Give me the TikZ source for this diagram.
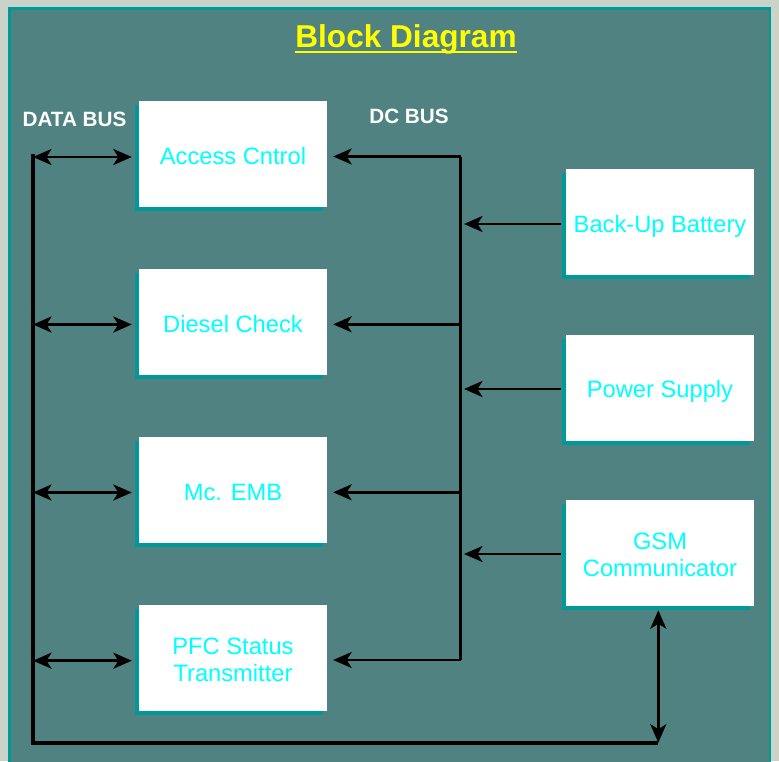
\documentclass[tikz,border=0pt]{standalone}
\usepackage{fontspec}
\setmainfont{Liberation Sans}
\usetikzlibrary{arrows.meta,shadows}
\definecolor{outerbg}{HTML}{C9D3C7}
\definecolor{panel}{HTML}{508282}
\definecolor{tealb}{HTML}{009999}
\definecolor{cyantext}{HTML}{00FFFF}
\definecolor{titleyellow}{HTML}{FFFF00}
\newcommand\twolines[2]{\vbox{\baselineskip=27pt\lineskiplimit=-100pt\halign{\hfil##\hfil\cr#1\cr#2\cr}}}
\tikzset{
  blk/.style={fill=white, minimum width=188pt, minimum height=106pt, inner sep=0pt,
    text=cyantext, font=\fontsize{23.7}{27}\selectfont, text height=20pt, text depth=0pt,
    drop shadow={shadow xshift=-4pt, shadow yshift=-4pt, fill=tealb, opacity=1}},
  blktwo/.style={blk, text height=47pt},
  buslabel/.style={text=white, font=\fontsize{20.7}{24}\selectfont\bfseries, inner sep=0pt, anchor=base},
  databus/.style={line width=4pt, black},
  dcbus/.style={line width=2.5pt, black},
  dbarrow/.style={line width=2.8pt, black, {Stealth[length=18.5pt,width=16pt,inset=5pt]}-{Stealth[length=18.5pt,width=16pt,inset=5pt]}},
  dcarrow/.style={line width=2.4pt, black, -{Stealth[length=18.5pt,width=16pt,inset=5pt]}}
}
\begin{document}
\begin{tikzpicture}[x=1pt,y=-1pt]
\useasboundingbox (0,0) rectangle (779,761);
\fill[outerbg] (0,0) rectangle (779,761);
\fill[panel] (8,7) rectangle (771,765);
\draw[tealb, line width=2.5pt] (9.25,8.25) -- (769.75,8.25);
\draw[tealb, line width=2.5pt] (9.25,8.25) -- (9.25,765);
\draw[tealb, line width=2.5pt] (769.75,8.25) -- (769.75,765);

% title
\node[text=titleyellow, font=\fontsize{31.6}{36}\selectfont\bfseries, inner sep=0pt, anchor=base] (title) at (406,47.3) {Block Diagram};
\draw[titleyellow, line width=2pt] ([yshift=-4.4pt]title.base west) -- ([yshift=-4.4pt]title.base east);

\node[buslabel] (dbl) at (74.5,126.7) {DATA BUS};
\node[buslabel] (dcl) at (409,123.3) {DC BUS};

% left boxes
\node[blk] (acc) at (233,154) {Access Cntrol};
\node[blk] (die) at (233,322) {Diesel Check};
\node[blk] (emb) at (233,490) {Mc. EMB};
\node[blktwo] (pfc) at (233,658) {\twolines{PFC Status}{Transmitter}};

% right boxes
\node[blk] (bat) at (660,222) {Back-Up Battery};
\node[blk] (pow) at (660,387.5) {Power Supply};
\node[blktwo] (gsm) at (660,553) {\twolines{GSM}{Communicator}};

% data bus
\coordinate (dbtop) at (32.7,154);
\coordinate (dbbot) at (32.7,742.7);
\coordinate (dbend) at (658.3,742.7);
\draw[databus] (dbtop) -- (dbbot) -- (dbend);
\foreach \n/\yy in {acc/157,die/324.5,emb/492.5,pfc/660.7}{
  \coordinate (L\n) at (33,\yy);
  \draw[dbarrow] (L\n) -- ([xshift=-7pt]L\n -| \n.west);
}
\draw[dbarrow] (dbend) -- ([yshift=-4pt]dbend |- gsm.south);

% DC bus
\coordinate (dctop) at (460.5,156.5);
\coordinate (dcbot) at (460.5,660);
\draw[dcbus] (dctop) -- (dcbot);
\foreach \n/\yy in {acc/156.5,die/324.3,emb/492.3,pfc/660}{
  \coordinate (R\n) at (460.5,\yy);
  \draw[dcarrow] (R\n) -- ([xshift=6pt]R\n -| \n.east);
}
\foreach \n/\yy in {bat/224,pow/389,gsm/554}{
  \coordinate (S\n) at (\n.west |- 0,\yy);
  \draw[dcarrow] ([xshift=-5pt]S\n) -- ([xshift=3.5pt]S\n -| dctop);
}
\end{tikzpicture}
\end{document}
